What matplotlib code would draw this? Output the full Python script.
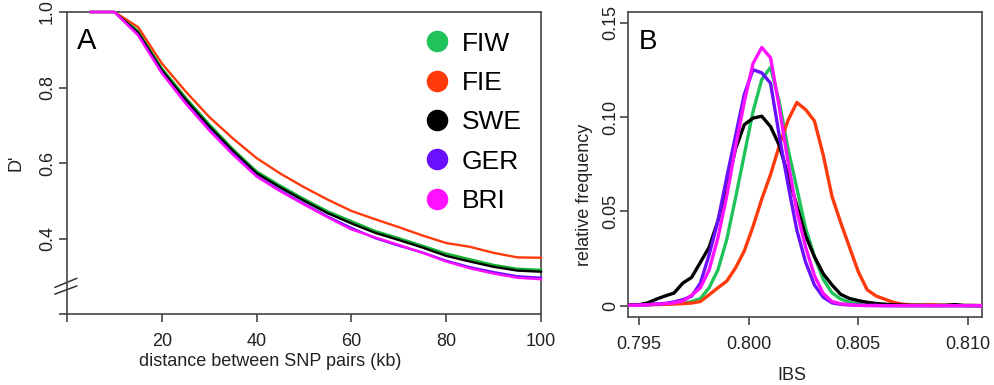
import matplotlib
matplotlib.use("Agg")
import matplotlib.pyplot as plt
from matplotlib.lines import Line2D
import numpy as np

plt.rcParams['font.family'] = ['Liberation Sans', 'DejaVu Sans']

# ---------------- Panel A data ----------------
dist_kb = [5, 10, 15, 20, 25, 30, 35, 40, 45, 50, 55, 60, 65, 70, 75, 80, 85, 90, 95, 100]
d_FIW = [1.0, 1.0, 0.950, 0.851, 0.774, 0.703, 0.637, 0.578, 0.540, 0.505, 0.472, 0.446, 0.420, 0.401, 0.381, 0.360, 0.345, 0.330, 0.320, 0.317]
d_FIE = [1.0, 1.0, 0.960, 0.864, 0.790, 0.722, 0.665, 0.613, 0.572, 0.536, 0.503, 0.473, 0.451, 0.430, 0.408, 0.388, 0.378, 0.362, 0.350, 0.349]
d_SWE = [1.0, 1.0, 0.945, 0.846, 0.768, 0.697, 0.632, 0.573, 0.535, 0.500, 0.467, 0.440, 0.415, 0.396, 0.376, 0.354, 0.339, 0.325, 0.315, 0.312]
d_GER = [1.0, 1.0, 0.940, 0.840, 0.760, 0.689, 0.625, 0.566, 0.527, 0.492, 0.458, 0.428, 0.401, 0.381, 0.363, 0.341, 0.324, 0.311, 0.300, 0.296]
d_BRI = [1.0, 1.0, 0.938, 0.838, 0.758, 0.686, 0.622, 0.564, 0.525, 0.490, 0.456, 0.424, 0.403, 0.383, 0.362, 0.339, 0.321, 0.307, 0.296, 0.292]

# ---------------- Panel B data ----------------
ibs = [0.7942, 0.7946, 0.7950, 0.7954, 0.7958, 0.7962, 0.7966, 0.7970, 0.7974, 0.7978,
       0.7982, 0.7986, 0.7990, 0.7994, 0.7998, 0.8002, 0.8006, 0.8010, 0.8014, 0.8018,
       0.8022, 0.8026, 0.8030, 0.8034, 0.8038, 0.8042, 0.8046, 0.8050, 0.8054, 0.8058,
       0.8062, 0.8066, 0.8070, 0.8074, 0.8078, 0.8082, 0.8086, 0.8090, 0.8094, 0.8098,
       0.8102, 0.8106, 0.8110]
f_FIW = [0.0001, 0.0002, 0.0003, 0.0005, 0.0007, 0.0009, 0.0011, 0.0014, 0.0022, 0.0038,
         0.0095, 0.0190, 0.0350, 0.0570, 0.0800, 0.1030, 0.1200, 0.1265, 0.1080, 0.0830,
         0.0622, 0.0410, 0.0260, 0.0140, 0.0068, 0.0035, 0.0018, 0.0010, 0.0006, 0.0004,
         0.0002, 0.0002, 0.0001, 0.0001, 0.0001, 0.0001, 0.0001, 0.0001, 0.0001, 0.0001,
         0.0, 0.0, 0.0]
f_FIE = [0.0003, 0.0003, 0.0004, 0.0005, 0.0006, 0.0007, 0.0009, 0.0011, 0.0014, 0.0022,
         0.0058, 0.0095, 0.0130, 0.0200, 0.0290, 0.0420, 0.0566, 0.0696, 0.0850, 0.0985,
         0.1078, 0.1040, 0.0980, 0.0800, 0.0580, 0.0440, 0.0310, 0.0180, 0.0085, 0.0052,
         0.0035, 0.0018, 0.0008, 0.0004, 0.0003, 0.0005, 0.0004, 0.0002, 0.0002, 0.0001,
         0.0001, 0.0001, 0.0001]
f_SWE = [0.0, 0.0003, 0.0005, 0.0015, 0.0035, 0.0052, 0.0067, 0.0120, 0.0150, 0.0230,
         0.0310, 0.0450, 0.0630, 0.0830, 0.0960, 0.0995, 0.1005, 0.0950, 0.0850, 0.0690,
         0.0530, 0.0370, 0.0260, 0.0170, 0.0110, 0.0060, 0.0038, 0.0027, 0.0018, 0.0012,
         0.0008, 0.0005, 0.0003, 0.0002, 0.0002, 0.0001, 0.0001, 0.0002, 0.0006, 0.0001,
         0.0001, 0.0, 0.0]
f_GER = [0.0001, 0.0002, 0.0003, 0.0005, 0.0009, 0.0012, 0.0020, 0.0032, 0.0050, 0.0120,
         0.0270, 0.0450, 0.0680, 0.0900, 0.1120, 0.1252, 0.1235, 0.1180, 0.0900, 0.0640,
         0.0400, 0.0230, 0.0110, 0.0045, 0.0015, 0.0007, 0.0004, 0.0002, 0.0001, 0.0001,
         0.0, 0.0, 0.0, 0.0, 0.0, 0.0, 0.0, 0.0, 0.0, 0.0,
         0.0, 0.0, 0.0]
f_BRI = [0.0001, 0.0002, 0.0003, 0.0005, 0.0008, 0.0011, 0.0015, 0.0025, 0.0055, 0.0095,
         0.0190, 0.0360, 0.0580, 0.0840, 0.1080, 0.1285, 0.1370, 0.1315, 0.1050, 0.0760,
         0.0500, 0.0310, 0.0160, 0.0065, 0.0022, 0.0010, 0.0005, 0.0002, 0.0001, 0.0001,
         0.0, 0.0, 0.0, 0.0, 0.0, 0.0, 0.0, 0.0, 0.0, 0.0,
         0.0, 0.0, 0.0]

A_xticks = [0, 20, 40, 60, 80, 100]
A_xticklabels = ['', '20', '40', '60', '80', '100']
A_yticks = [0.2, 0.4, 0.6, 0.8, 1.0]
A_yticklabels = ['', '0.4', '0.6', '0.8', '1.0']
B_xticks = [0.795, 0.800, 0.805, 0.810]
B_xticklabels = ['0.795', '0.800', '0.805', '0.810']
B_yticks = [0, 0.05, 0.10, 0.15]
B_yticklabels = ['0', '0.05', '0.10', '0.15']

pops = ['FIW', 'FIE', 'SWE', 'GER', 'BRI']
colors = {'FIW': '#1fc35a', 'FIE': '#ff3a0a', 'SWE': '#000000', 'GER': '#6a10ff', 'BRI': '#ff10ff'}
colors_A = {'FIW': '#12b030', 'FIE': '#ff3a0a', 'SWE': '#000000', 'GER': '#6a10ff', 'BRI': '#ff10ff'}
A_series = {'FIW': d_FIW, 'FIE': d_FIE, 'SWE': d_SWE, 'GER': d_GER, 'BRI': d_BRI}
B_series = {'FIW': f_FIW, 'FIE': f_FIE, 'SWE': f_SWE, 'GER': f_GER, 'BRI': f_BRI}

W, H = 994, 385
fig = plt.figure(figsize=(W / 100, H / 100), dpi=100)

spine_col = '#454545'
text_col = '#222222'

def px_axes(l, r, t, b):
    return [l / W, (H - b) / H, (r - l) / W, (b - t) / H]

def style_axes(ax, xpad, ypad):
    ax.tick_params(axis='both', labelsize=13, length=6, width=1.2, color=spine_col, labelcolor=text_col)
    ax.tick_params(axis='x', pad=xpad)
    ax.tick_params(axis='y', pad=ypad)
    for s in ax.spines.values():
        s.set_color(spine_col)
        s.set_linewidth(1.2)

# ---------------- Panel A ----------------
axA = fig.add_axes(px_axes(67, 541, 12, 314))
for p in pops:
    axA.plot(dist_kb, A_series[p], color=colors_A[p], lw=1.7, clip_on=False, zorder=3)
axA.set_xlim(0, 100)
axA.set_ylim(0.2, 1.0)
axA.set_xticks(A_xticks)
axA.set_xticklabels(A_xticklabels)
axA.set_yticks(A_yticks)
axA.set_yticklabels(A_yticklabels, rotation=90, va='center', ha='right')
style_axes(axA, 8, 2)
axA.set_xlabel('distance between SNP pairs (kb)', fontsize=13, color=text_col)
axA.xaxis.set_label_coords(0.428, -0.13)
axA.set_ylabel("D'", fontsize=13, color=text_col)
axA.yaxis.set_label_coords(-0.089, 0.5)
axA.text(0.021, 0.877, 'A', transform=axA.transAxes, fontsize=21, color='black', va='baseline', ha='left')

# axis break marks
for y0, y1 in [(0.0884, 0.118), (0.066, 0.0927)]:
    axA.plot([-0.0253, 0.0205], [y0, y1], transform=axA.transAxes, color='#333333', lw=1.1, clip_on=False)

handles = [Line2D([], [], marker='o', ls='', color=colors[p], markersize=14.5) for p in pops]
axA.legend(handles, pops, loc='upper left', bbox_to_anchor=(0.752, 0.935), frameon=False,
           fontsize=19, handlelength=1.0, handletextpad=0.45, labelspacing=0.58,
           borderpad=0, borderaxespad=0, labelcolor='black')

# ---------------- Panel B ----------------
axB = fig.add_axes(px_axes(628, 982, 12, 317))
for p in pops:
    axB.plot(ibs, B_series[p], color=colors[p], lw=2.4, zorder=3)
axB.set_xlim(0.7945, 0.81064)
axB.set_ylim(-0.006, 0.1558)
axB.set_xticks(B_xticks)
axB.set_xticklabels(B_xticklabels)
axB.set_yticks(B_yticks)
axB.set_yticklabels(B_yticklabels, rotation=90, va='center', ha='right')
style_axes(axB, 8, 0)
axB.set_xlabel('IBS', fontsize=13, color=text_col)
axB.xaxis.set_label_coords(0.463, -0.165)
axB.set_ylabel('relative frequency', fontsize=13, color=text_col)
axB.yaxis.set_label_coords(-0.10, 0.40)
axB.text(0.031, 0.878, 'B', transform=axB.transAxes, fontsize=20, color='black', va='baseline', ha='left')

fig.savefig('out.png', dpi=100)
